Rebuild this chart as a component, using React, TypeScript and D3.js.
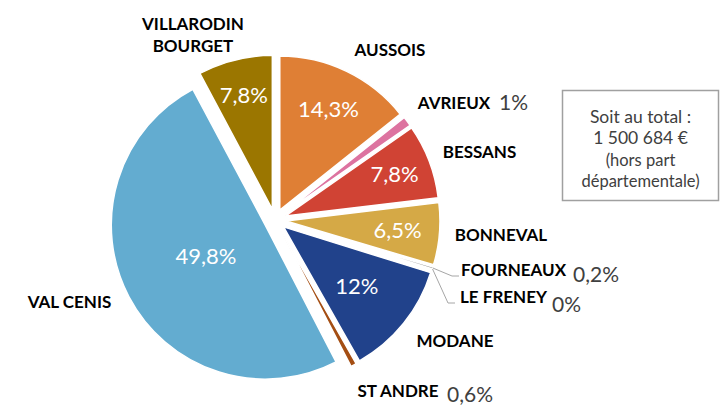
import React from "react";
import * as d3 from "d3";

// share of the total per commune, clockwise from 12 o'clock
const communes = [
  "AUSSOIS",
  "AVRIEUX",
  "BESSANS",
  "BONNEVAL",
  "FOURNEAUX",
  "LE FRENEY",
  "MODANE",
  "ST ANDRE",
  "VAL CENIS",
  "VILLARODIN BOURGET",
];
const shares = [14.3, 1, 7.8, 6.5, 0.2, 0, 12, 0.6, 49.8, 7.8];
const colors = [
  "#DF7F35",
  "#DD73A0",
  "#D04334",
  "#D5A946",
  "#8C8C8C",
  "#5B9BD5",
  "#21428B",
  "#A44E13",
  "#63ACD0",
  "#9B7600",
];
const totalLines = ["Soit au total :", "1 500 684 €", "(hors part", "départementale)"];

const W = 728;
const H = 405;
const cx = 275;
const cy = 220;
const R = 154;
const explode = 11;
const font = "Lato, 'Open Sans', sans-serif";

// value labels drawn inside the slice, distance from pie centre
const insideR: Record<string, number> = {
  AUSSOIS: 123,
  BESSANS: 128,
  BONNEVAL: 123,
  MODANE: 105,
  "VAL CENIS": 78,
  "VILLARODIN BOURGET": 129,
};

// commune name labels (centre x, baseline) and outside value labels
const nameLabels: Record<string, { x: number; y: number; vx?: number; vy?: number }> = {
  AUSSOIS: { x: 390, y: 56 },
  AVRIEUX: { x: 454, y: 109, vx: 499, vy: 110 },
  BESSANS: { x: 479.5, y: 158 },
  BONNEVAL: { x: 501, y: 241 },
  FOURNEAUX: { x: 513.5, y: 276, vx: 573, vy: 282 },
  "LE FRENEY": { x: 503.5, y: 303, vx: 552, vy: 312 },
  MODANE: { x: 455, y: 347 },
  "ST ANDRE": { x: 398, y: 397, vx: 447, vy: 402 },
  "VAL CENIS": { x: 69.5, y: 308 },
  "VILLARODIN BOURGET": { x: 193, y: 30 },
};

const leaderElbows: Record<string, [number, number]> = {
  FOURNEAUX: [452, 276],
  "LE FRENEY": [448, 303],
};

const fmt = (v: number) => String(v).replace(".", ",") + "%";

export default function App() {
  const data = communes.map((name, i) => ({ name, value: shares[i], color: colors[i] }));
  const pie = d3
    .pie<{ name: string; value: number; color: string }>()
    .sort(null)
    .value((d) => d.value);
  const arcs = pie(data);
  const arc = d3
    .arc<d3.PieArcDatum<{ name: string; value: number; color: string }>>()
    .innerRadius(0)
    .outerRadius(R);

  const polar = (a: number, r: number): [number, number] => [
    cx + r * Math.sin(a),
    cy - r * Math.cos(a),
  ];

  return (
    <svg width={W} height={H} style={{ display: "block", position: "absolute", left: 0, top: 0 }}>
      <rect width={W} height={H} fill="#fff" />
      {arcs.map((a) => {
        if (a.data.value === 0) return null;
        const mid = (a.startAngle + a.endAngle) / 2;
        const [ox, oy] = polar(mid, explode);
        return (
          <path
            key={a.data.name}
            d={arc(a) || ""}
            transform={`translate(${ox},${oy})`}
            fill={a.data.color}
            stroke="#fff"
            strokeWidth={1.5}
          />
        );
      })}

      {arcs.map((a) => {
        const r = insideR[a.data.name];
        if (!r) return null;
        const mid = (a.startAngle + a.endAngle) / 2;
        const [x, y] = polar(mid, r);
        return (
          <text
            key={a.data.name + "-v"}
            x={x}
            y={y}
            dy="0.35em"
            textAnchor="middle"
            fill="#fff"
            fontFamily={font}
            fontSize={22}
          >
            {fmt(a.data.value)}
          </text>
        );
      })}

      {arcs.map((a) => {
        const elbow = leaderElbows[a.data.name];
        if (!elbow) return null;
        const mid = (a.startAngle + a.endAngle) / 2;
        const [sx, sy] = polar(mid, R + explode);
        return (
          <polyline
            key={a.data.name + "-l"}
            points={`${sx},${sy} ${elbow[0]},${elbow[1]} ${elbow[0] + 7},${elbow[1]}`}
            fill="none"
            stroke="#A6A6A6"
            strokeWidth={1}
          />
        );
      })}

      {arcs.map((a) => {
        const p = nameLabels[a.data.name];
        const words = a.data.name === "VILLARODIN BOURGET" ? ["VILLARODIN", "BOURGET"] : [a.data.name];
        return (
          <g key={a.data.name + "-n"} fontFamily={font}>
            <text x={p.x} y={p.y} textAnchor="middle" fontWeight="bold" fontSize={17} fill="#000">
              {words.map((w, i) => (
                <tspan key={w} x={p.x} dy={i === 0 ? 0 : 22}>
                  {w}
                </tspan>
              ))}
            </text>
            {p.vx !== undefined && (
              <text x={p.vx} y={p.vy} fontSize={21} fill="#404040">
                {fmt(a.data.value)}
              </text>
            )}
          </g>
        );
      })}

      <rect x={562.5} y={90.5} width={156} height={110} fill="#fff" stroke="#A0A0A0" strokeWidth={1.5} />
      {totalLines.map((t, i) => (
        <text
          key={t}
          x={640.5}
          y={123 + i * 21.3}
          textAnchor="middle"
          fontFamily={font}
          fontSize={i < 2 ? 17.5 : 16.5}
          fill="#404040"
        >
          {t}
        </text>
      ))}
    </svg>
  );
}
